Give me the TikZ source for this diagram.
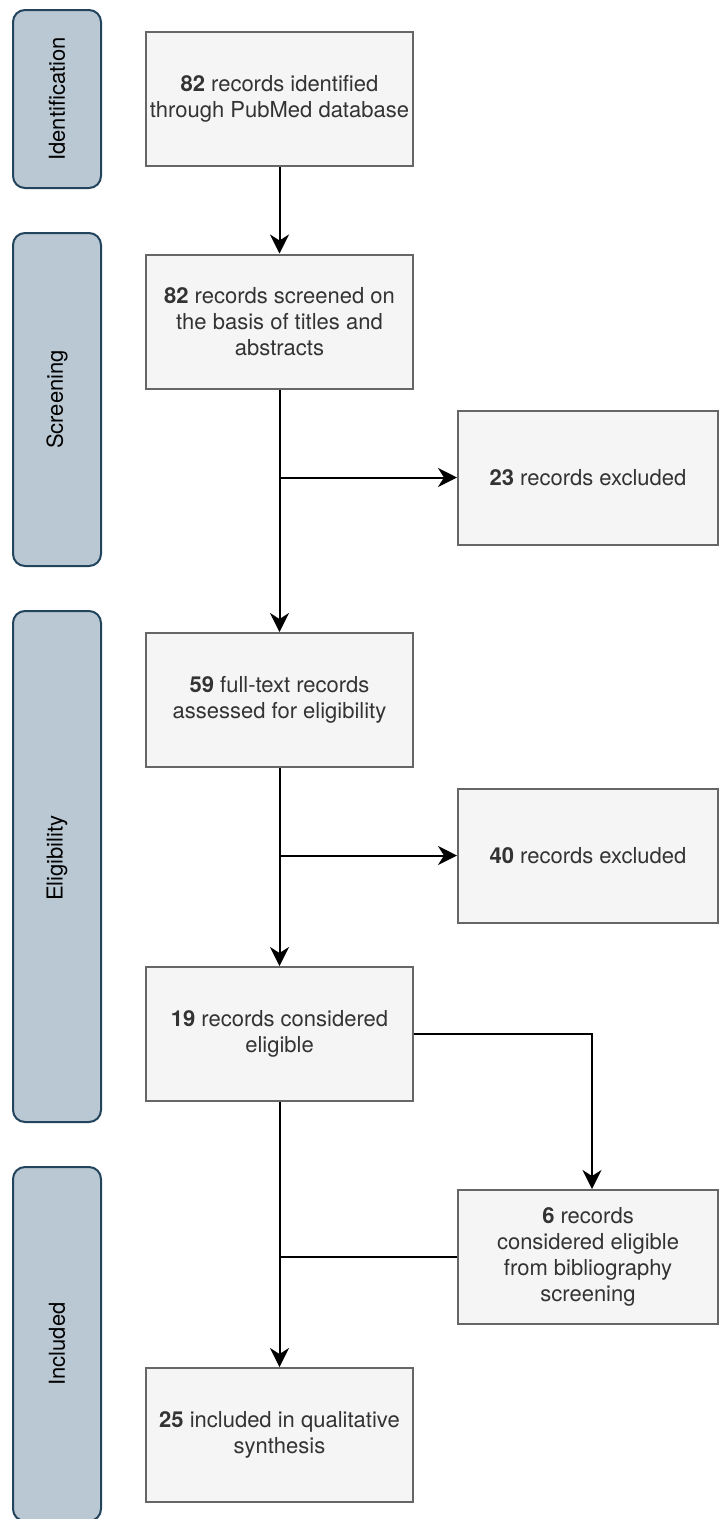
\documentclass[tikz,border=0pt]{standalone}
\usepackage{fontspec}
\setmainfont{TeX Gyre Heros}
\usetikzlibrary{arrows.meta}
\definecolor{stagefill}{HTML}{BAC8D3}
\definecolor{stageline}{HTML}{23445D}
\definecolor{boxfill}{HTML}{F5F5F5}
\definecolor{boxline}{HTML}{666666}
\definecolor{boxtext}{HTML}{333333}
\tikzset{
  stagebox/.style={draw=stageline, fill=stagefill, line width=2pt, rounded corners=12pt, minimum width=88pt, inner sep=0pt},
  stagelabel/.style={rotate=90, text=black, font=\fontsize{22}{26}\selectfont},
  procbox/.style={draw=boxline, fill=boxfill, line width=2pt, minimum height=134pt, inner sep=0pt, align=center, text=boxtext, font=\fontsize{22}{26}\selectfont},
  mainbox/.style={procbox, minimum width=267pt},
  sidebox/.style={procbox, minimum width=260pt},
  conn/.style={draw=black, line width=2pt},
  arr/.style={conn, -{Stealth[length=19pt,width=19pt,inset=6pt]}}
}
\begin{document}
\begin{tikzpicture}[x=1pt,y=-1pt]
\useasboundingbox (0,0) rectangle (719,1519);
\clip (0,0) rectangle (719,1519);
% stages
\node[stagebox, minimum height=178pt] (s1) at (57,99) {};
\node[stagelabel] at (s1.center) {Identification};
\node[stagebox, minimum height=333pt] (s2) at (57,399.5) {};
\node[stagelabel] at (s2.center) {Screening};
\node[stagebox, minimum height=511pt] (s3) at (57,866.5) {};
\node[stagelabel] at (57,858) {Eligibility};
\node[stagebox, minimum height=354pt] (s4) at (57,1344) {};
\node[stagelabel] at (s4.center) {Included};
% boxes
\node[mainbox] (b1) at (279.5,99) {\textbf{82} records identified\\through PubMed database};
\node[mainbox] (b2) at (279.5,321.5) {\textbf{82} records screened on\\the basis of titles and\\abstracts};
\node[mainbox] (b3) at (279.5,700) {\textbf{59} full-text records\\assessed for eligibility};
\node[mainbox] (b4) at (279.5,1034) {\textbf{19} records considered\\eligible};
\node[mainbox] (b5) at (279.5,1435) {\textbf{25} included in qualitative\\synthesis};
\node[sidebox] (r1) at (588,477.5) {\textbf{23} records excluded};
\node[sidebox] (r2) at (588,855.5) {\textbf{40} records excluded};
\node[sidebox] (r3) at (588,1257) {\textbf{6} records\\considered eligible\\from bibliography\\screening};
% connectors
\coordinate (j1) at (b2.south |- r1.west);
\coordinate (j2) at (b3.south |- r2.west);
\coordinate (j3) at (b4.south |- r3.west);
\coordinate (t3) at ([xshift=4pt]r3.north);
\draw[arr] (b1) -- (b2);
\draw[arr] (b2) -- (b3);
\draw[arr] (j1) -- (r1);
\draw[arr] (b3) -- (b4);
\draw[arr] (j2) -- (r2);
\draw[arr] (b4.east) -| (t3);
\draw[arr] (b4) -- (b5);
\draw[conn] (r3.west) -- (j3);
\end{tikzpicture}
\end{document}
